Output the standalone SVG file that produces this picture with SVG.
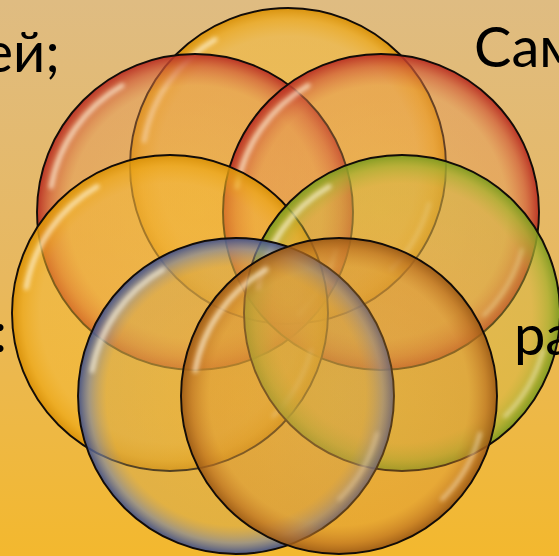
<svg xmlns="http://www.w3.org/2000/svg" xmlns:xlink="http://www.w3.org/1999/xlink" width="559" height="556" viewBox="0 0 559 556">
<style>
.ring{stroke:#120c08;stroke-width:1.9}
.hl{fill:none;stroke:#fff6dc;stroke-linecap:round;filter:url(#blur)}
.txt{font-family:Lato,"Open Sans","Noto Sans",sans-serif;font-size:56px;fill:#000}
</style>
<defs>
<linearGradient id="bg" x1="0" y1="0" x2="0" y2="1">
<stop offset="0" stop-color="#DFBC82"/>
<stop offset="0.5" stop-color="#E8B85E"/>
<stop offset="1" stop-color="#F3B82E"/>
</linearGradient>
<filter id="blur" x="-20%" y="-20%" width="140%" height="140%"><feGaussianBlur stdDeviation="2.2"/></filter>
<radialGradient id="gY"><stop offset="0" stop-color="#F7BE30" stop-opacity="0.42"/><stop offset="0.82" stop-color="#F5B830" stop-opacity="0.48"/><stop offset="0.93" stop-color="#EDA818" stop-opacity="0.72"/><stop offset="1" stop-color="#D89008" stop-opacity="0.95"/></radialGradient>
<radialGradient id="gR"><stop offset="0" stop-color="#E8A050" stop-opacity="0.32"/><stop offset="0.8" stop-color="#E49050" stop-opacity="0.4"/><stop offset="0.92" stop-color="#D05A38" stop-opacity="0.7"/><stop offset="1" stop-color="#B82E22" stop-opacity="0.95"/></radialGradient>
<radialGradient id="gG"><stop offset="0" stop-color="#DDB840" stop-opacity="0.32"/><stop offset="0.82" stop-color="#D0B840" stop-opacity="0.42"/><stop offset="0.93" stop-color="#A8B030" stop-opacity="0.75"/><stop offset="1" stop-color="#7E9A20" stop-opacity="0.95"/></radialGradient>
<radialGradient id="gB"><stop offset="0" stop-color="#D8A848" stop-opacity="0.26"/><stop offset="0.82" stop-color="#C8A458" stop-opacity="0.36"/><stop offset="0.93" stop-color="#8088A0" stop-opacity="0.7"/><stop offset="1" stop-color="#3C4C88" stop-opacity="0.92"/></radialGradient>
<radialGradient id="gO"><stop offset="0" stop-color="#DC9C38" stop-opacity="0.3"/><stop offset="0.82" stop-color="#D89030" stop-opacity="0.38"/><stop offset="0.93" stop-color="#BC7020" stop-opacity="0.7"/><stop offset="1" stop-color="#9A5814" stop-opacity="0.92"/></radialGradient>
<g id="shine">
<path class="hl" d="M -143.8 -25.4 A 146 146 0 0 1 -73 -126.4" stroke-width="5" opacity="0.7"/>
<path class="hl" d="M 141 37.8 A 146 146 0 0 1 103.2 103.2" stroke-width="4" opacity="0.5"/>
</g>
</defs>
<rect width="559" height="556" fill="url(#bg)"/>
<g id="circle-yellow-top"><circle cx="288" cy="166" r="158" fill="url(#gY)"/><use xlink:href="#shine" x="288" y="166"/><circle class="ring" cx="288" cy="166" r="158" fill="none"/></g>
<g id="circle-red-left"><circle cx="195" cy="212" r="158" fill="url(#gR)"/><use xlink:href="#shine" x="195" y="212"/><circle class="ring" cx="195" cy="212" r="158" fill="none"/></g>
<g id="circle-red-right"><circle cx="381" cy="212" r="158" fill="url(#gR)"/><use xlink:href="#shine" x="381" y="212"/><circle class="ring" cx="381" cy="212" r="158" fill="none"/></g>
<g id="circle-yellow-left"><circle cx="170" cy="313" r="158" fill="url(#gY)"/><use xlink:href="#shine" x="170" y="313"/><circle class="ring" cx="170" cy="313" r="158" fill="none"/></g>
<g id="circle-green-right"><circle cx="402" cy="313" r="158" fill="url(#gG)"/><use xlink:href="#shine" x="402" y="313"/><circle class="ring" cx="402" cy="313" r="158" fill="none"/></g>
<g id="circle-blue"><circle cx="236" cy="396" r="158" fill="url(#gB)"/><use xlink:href="#shine" x="236" y="396"/><circle class="ring" cx="236" cy="396" r="158" fill="none"/></g>
<g id="circle-orange"><circle cx="339" cy="396" r="158" fill="url(#gO)"/><use xlink:href="#shine" x="339" y="396"/><circle class="ring" cx="339" cy="396" r="158" fill="none"/></g>
<g id="labels">
<text class="txt" x="60" y="72" text-anchor="end">ей;</text>
<text class="txt" x="474" y="67">Сам</text>
<text class="txt" x="514" y="355">ра</text>
<text class="txt" x="7" y="352" text-anchor="end">:</text>
</g>
</svg>
